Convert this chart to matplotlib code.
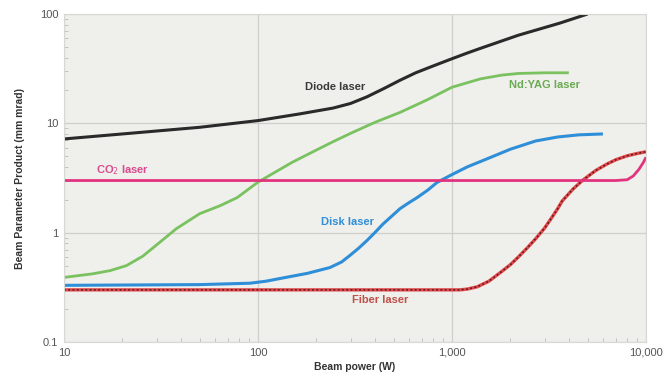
#!/usr/bin/env python3
"""Beam parameter product vs. beam power for common industrial lasers."""

import matplotlib
matplotlib.use("Agg")
import matplotlib.pyplot as plt
from matplotlib.ticker import FixedLocator, LogLocator, NullFormatter

# values (W, mm mrad)
diode_p = [10, 20, 50, 100, 164, 244, 300, 365, 450, 540, 650, 800, 1000, 1200, 1400, 2200, 3600, 5000]
diode_bpp = [7.2, 8.0, 9.2, 10.6, 12.2, 13.8, 15.2, 17.5, 21.0, 24.8, 29.0, 33.5, 39.0, 44.0, 48.5, 64, 82.6, 100]

yag_p = [10, 14, 17.3, 21, 25.5, 31, 38, 50, 64, 78, 100, 150, 200, 244, 300, 400, 540, 750, 1000,
         1400, 1800, 2200, 3000, 4000]
yag_bpp = [0.39, 0.42, 0.45, 0.50, 0.61, 0.81, 1.09, 1.49, 1.77, 2.09, 2.9, 4.4, 5.7, 6.8, 8.1, 10.2,
           12.6, 16.5, 21.4, 25.5, 27.6, 28.6, 29, 29]

co2_p = [10, 7000, 8000, 8600, 9200, 9700, 10000]
co2_bpp = [3.0, 3.0, 3.05, 3.3, 3.8, 4.4, 4.9]

disk_p = [10, 50, 91, 110, 134, 180, 235, 270, 298, 330, 365, 400, 441, 490, 540, 600, 660, 750, 837,
          1000, 1200, 1500, 2000, 2700, 3500, 4500, 6000]
disk_bpp = [0.33, 0.335, 0.345, 0.36, 0.385, 0.425, 0.48, 0.54, 0.62, 0.72, 0.85, 1.0, 1.2, 1.42, 1.66,
            1.88, 2.09, 2.45, 2.88, 3.4, 4.0, 4.7, 5.8, 6.9, 7.5, 7.85, 8.0]

fiber_p = [10, 1100, 1200, 1350, 1550, 1800, 2000, 2200, 2450, 2700, 3000, 3200, 3500, 3700,
           4200, 4700, 5500, 6300, 7000, 8000, 9000, 10000]
fiber_bpp = [0.3, 0.3, 0.305, 0.32, 0.36, 0.44, 0.51, 0.6, 0.73, 0.88, 1.1, 1.3, 1.65, 1.95,
             2.5, 3.0, 3.7, 4.25, 4.65, 5.05, 5.3, 5.5]

x_ticks = [10, 100, 1000, 10000]
x_labels = ["10", "100", "1,000", "10,000"]
y_ticks = [0.1, 1, 10, 100]
y_labels = ["0.1", "1", "10", "100"]

plt.rcParams["font.family"] = ["Liberation Sans", "DejaVu Sans"]

fig = plt.figure(figsize=(6.65, 3.83), dpi=100)
ax = fig.add_axes([0.0962, 0.107, 0.8752, 0.8564])
ax.set_facecolor("#efefeb")

ax.plot(diode_p, diode_bpp, color="#2a2a2a", lw=2.2, solid_capstyle="butt")
ax.plot(yag_p, yag_bpp, color="#79c25f", lw=2.0, solid_capstyle="butt")
ax.plot(disk_p, disk_bpp, color="#2f8ed8", lw=2.2, solid_capstyle="butt")
ax.plot(fiber_p, fiber_bpp, color="#e0484c", lw=2.4, solid_capstyle="butt")
ax.plot(fiber_p, fiber_bpp, color="#5a1a1a", lw=1.1, ls=(0, (1.2, 1.6)))
ax.plot(co2_p, co2_bpp, color="#e2337f", lw=2.0, solid_capstyle="butt")

ax.set_xscale("log")
ax.set_yscale("log")
ax.set_xlim(10, 10000)
ax.set_ylim(0.1, 100)

ax.xaxis.set_major_locator(FixedLocator(x_ticks))
ax.set_xticklabels(x_labels)
ax.yaxis.set_major_locator(FixedLocator(y_ticks))
ax.set_yticklabels(y_labels)
for axis in (ax.xaxis, ax.yaxis):
    axis.set_minor_locator(LogLocator(base=10, subs=range(2, 10)))
    axis.set_minor_formatter(NullFormatter())

ax.grid(True, which="major", color="#cfcfcb", lw=0.9)
ax.set_axisbelow(True)
ax.tick_params(which="major", length=0, labelsize=8, labelcolor="#555555", pad=4)
ax.tick_params(which="minor", direction="in", length=3, color="#bdbdb8", width=0.6)
for s in ax.spines.values():
    s.set_color("#d8d8d4")
    s.set_linewidth(0.8)

ax.set_xlabel("Beam power (W)", fontsize=7.5, fontweight="bold", color="#333333", labelpad=3)
ax.set_ylabel("Beam Parameter Product (mm mrad)", fontsize=7.5, fontweight="bold",
              color="#333333", labelpad=11)

lbl = dict(fontsize=8, fontweight="bold", ha="center", va="center")
ax.text(250, 21.4, "Diode laser", color="#3a3a3a", **lbl)
ax.text(3000, 22.3, "Nd:YAG laser", color="#6aaa52", **lbl)
ax.text(20, 3.7, "CO$_2$ laser", color="#d84a8e", **lbl)
ax.text(290, 1.24, "Disk laser", color="#2f8ed8", **lbl)
ax.text(425, 0.24, "Fiber laser", color="#c0504a", **lbl)

fig.savefig("out.png", dpi=100)
